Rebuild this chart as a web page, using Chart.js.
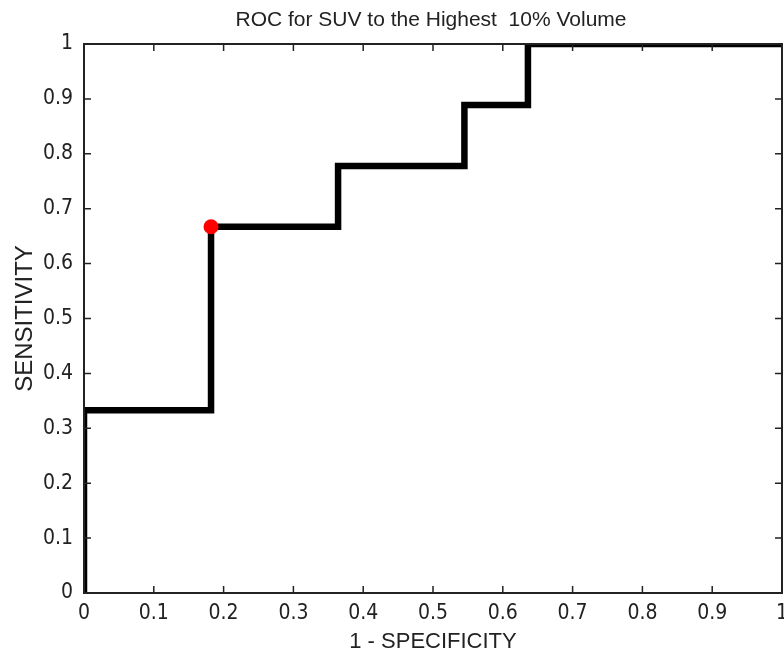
<!DOCTYPE html>
<html>
<head>
<meta charset="utf-8">
<script src="https://cdn.jsdelivr.net/npm/chart.js@4.4.1/dist/chart.umd.min.js"></script>
<style>
	html, body { margin: 0; padding: 0; background: #fff; }
	#wrap { width: 784px; height: 658px; }
</style>
</head>
<body>
<div id="wrap"><canvas id="roc" width="784" height="658"></canvas></div>
<script>
// ROC curve points
const fpr = [0, 0, 0.182, 0.182, 0.364, 0.364, 0.545, 0.545, 0.636, 0.636, 1];
const tpr = [0, 0.333, 0.333, 0.667, 0.667, 0.778, 0.778, 0.889, 0.889, 1, 1];
// Chosen cut-off point (red dot)
const cutX = [0.182];
const cutY = [0.667];
const tickValues = [0, 0.1, 0.2, 0.3, 0.4, 0.5, 0.6, 0.7, 0.8, 0.9, 1];
const titleText = 'ROC for SUV to the Highest  10% Volume';

const fontName = '"Liberation Sans", Arial, sans-serif';
const narrowFont = '"Liberation Sans Narrow", "DejaVu Sans Condensed", "Liberation Sans", sans-serif';

// Box round the plot, inward ticks on every side, and the title
const matlabBox = {
	id: 'matlabBox',
	afterDatasetsDraw(chart) {
		const { ctx, chartArea: a, scales } = chart;
		ctx.save();
		ctx.strokeStyle = '#222';
		ctx.lineWidth = 2;
		ctx.strokeRect(a.left, a.top, a.right - a.left, a.bottom - a.top);
		ctx.lineWidth = 1.5;
		ctx.beginPath();
		tickValues.forEach((v) => {
			if (v === 0 || v === 1) return;
			const x = scales.x.getPixelForValue(v);
			ctx.moveTo(x, a.bottom);
			ctx.lineTo(x, a.bottom - 7);
			ctx.moveTo(x, a.top);
			ctx.lineTo(x, a.top + 7);
			const y = scales.y.getPixelForValue(v);
			ctx.moveTo(a.left, y);
			ctx.lineTo(a.left + 7, y);
			ctx.moveTo(a.right, y);
			ctx.lineTo(a.right - 7, y);
		});
		ctx.stroke();
		ctx.fillStyle = '#222';
		ctx.font = '21px ' + fontName;
		ctx.textAlign = 'center';
		ctx.textBaseline = 'middle';
		ctx.fillText(titleText, 431, 20);
		ctx.restore();
	},
};

let ctx = document.getElementById('roc').getContext('2d');
let rocChart = new Chart(ctx, {
	type: 'line',
	data: {
		datasets: [
			{
				label: 'Cut-off',
				data: cutX.map((x, i) => ({ x: x, y: cutY[i] })),
				showLine: false,
				pointRadius: 7.5,
				pointBorderWidth: 0,
				pointBackgroundColor: '#ff0000',
				pointBorderColor: '#ff0000',
			},
			{
				label: 'ROC',
				data: fpr.map((x, i) => ({ x: x, y: tpr[i] })),
				borderColor: '#000',
				borderWidth: 6.5,
				pointRadius: 0,
				tension: 0,
				fill: false,
				borderJoinStyle: 'miter',
			},
		],
	},
	options: {
		responsive: false,
		animation: false,
		layout: { autoPadding: false, padding: { top: 44, right: 2, left: 0, bottom: 0 } },
		plugins: {
			legend: { display: false },
			tooltip: { enabled: false },
			title: { display: false },
		},
		scales: {
			x: {
				type: 'linear',
				min: 0,
				max: 1,
				afterBuildTicks: (scale) => {
					scale.ticks = tickValues.map((v) => ({ value: v }));
				},
				afterFit: (scale) => {
					scale.height = 65;
					scale.paddingLeft = 0;
					scale.paddingRight = 0;
				},
				grid: { display: false, drawTicks: false },
				border: { display: false },
				ticks: {
					padding: 8,
					color: '#222',
					maxRotation: 0,
					autoSkip: false,
					font: { family: narrowFont, size: 21 },
					callback: (v) => String(v),
				},
				title: {
					display: true,
					text: '1 - SPECIFICITY',
					color: '#222',
					padding: { top: 0, bottom: 3 },
					font: { family: fontName, size: 22 },
				},
			},
			y: {
				type: 'linear',
				min: 0,
				max: 1,
				afterBuildTicks: (scale) => {
					scale.ticks = tickValues.map((v) => ({ value: v }));
				},
				afterFit: (scale) => {
					scale.width = 84;
					scale.paddingTop = 0;
					scale.paddingBottom = 0;
				},
				grid: { display: false, drawTicks: false },
				border: { display: false },
				ticks: {
					padding: 11,
					color: '#222',
					autoSkip: false,
					font: { family: narrowFont, size: 21 },
					callback: (v) => String(v),
				},
				title: {
					display: true,
					text: 'SENSITIVITY',
					color: '#222',
					padding: { top: 11, bottom: 0 },
					font: { family: fontName, size: 24 },
				},
			},
		},
	},
	plugins: [matlabBox],
});
</script>
</body>
</html>
